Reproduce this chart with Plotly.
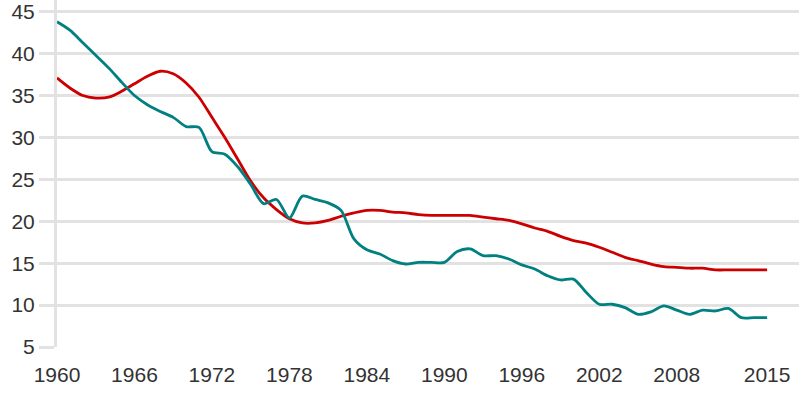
import plotly.graph_objects as go

years = list(range(1960, 2016))
teal_values = [43.8, 42.8, 41.3, 39.8, 38.3, 36.6, 35.0, 33.9, 33.1, 32.4,
               31.3, 31.2, 28.3, 28.0, 26.5, 24.4, 22.1, 22.6, 20.4, 23.0,
               22.6, 22.2, 21.3, 17.9, 16.6, 16.1, 15.3, 14.9, 15.1, 15.1,
               15.1, 16.4, 16.7, 15.9, 15.9, 15.5, 14.8, 14.3, 13.5, 13.0,
               13.1, 11.5, 10.1, 10.1, 9.7, 8.9, 9.2, 9.9, 9.4, 8.9,
               9.4, 9.3, 9.6, 8.5, 8.5, 8.5]
red_values = [37.1, 35.9, 35.0, 34.7, 34.8, 35.5, 36.4, 37.3, 37.9, 37.6,
              36.5, 34.8, 32.4, 30.0, 27.4, 24.8, 22.8, 21.4, 20.3, 19.8,
              19.8, 20.1, 20.6, 21.0, 21.3, 21.3, 21.1, 21.0, 20.8, 20.7,
              20.7, 20.7, 20.7, 20.5, 20.3, 20.1, 19.7, 19.2, 18.8, 18.2,
              17.7, 17.4, 16.9, 16.3, 15.7, 15.3, 14.9, 14.6, 14.5, 14.4,
              14.4, 14.2, 14.2, 14.2, 14.2, 14.2]
x_ticks = [1960, 1966, 1972, 1978, 1984, 1990, 1996, 2002, 2008, 2015]
y_ticks = [5, 10, 15, 20, 25, 30, 35, 40, 45]

fig = go.Figure()
fig.add_trace(go.Scatter(x=years, y=red_values, mode="lines",
                         line=dict(color="#cc0000", width=2.8, shape="spline", smoothing=0.8),
                         showlegend=False, hoverinfo="x+y"))
fig.add_trace(go.Scatter(x=years, y=teal_values, mode="lines",
                         line=dict(color="#008080", width=2.8, shape="spline", smoothing=0.8),
                         showlegend=False, hoverinfo="x+y"))

grid = "#e2e2e2"
fig.update_layout(
    width=799, height=399,
    margin=dict(l=57, r=0, t=0, b=52),
    paper_bgcolor="white", plot_bgcolor="white",
    font=dict(family="Liberation Sans, Arial, sans-serif", size=21, color="#333333"),
    xaxis=dict(range=[1960, 2017.47], tickvals=x_ticks, ticktext=[str(t) for t in x_ticks],
               showgrid=False, zeroline=False, showline=False, automargin=False,
               ticks="outside", ticklen=9, tickcolor="rgba(0,0,0,0)",
               tickfont=dict(size=21), ticklabeloverflow="allow"),
    yaxis=dict(range=[5, 46.4], tickvals=y_ticks, showgrid=True, gridcolor=grid, gridwidth=2.5,
               zeroline=False, showline=True, linecolor=grid, linewidth=3, automargin=False,
               ticks="outside", ticklen=15, tickcolor=grid, tickwidth=2.5,
               tickfont=dict(size=21), ticklabeloverflow="allow"),
)
fig.write_html("out.html", config={"displayModeBar": False},
               post_script="document.body.style.margin='0';")
